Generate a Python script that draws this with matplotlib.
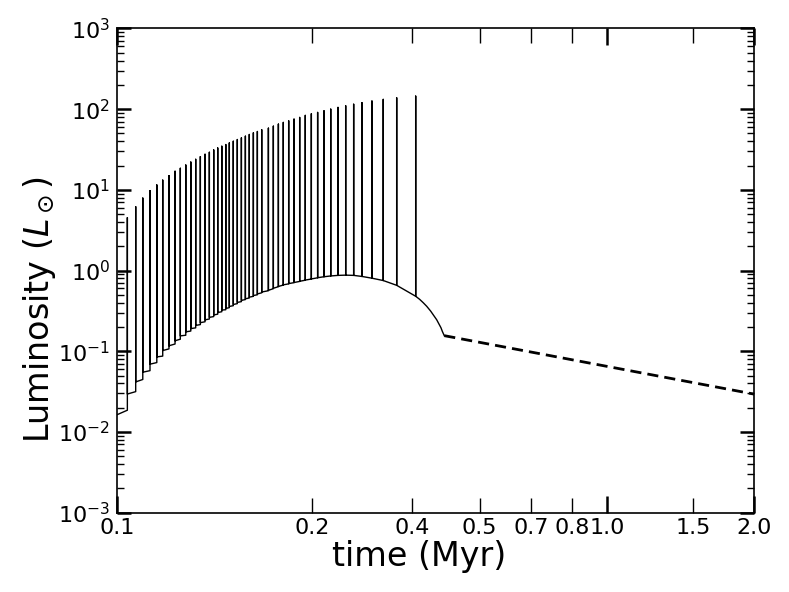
import numpy as np
import matplotlib
matplotlib.use("Agg")
import matplotlib.pyplot as plt
from matplotlib.ticker import FixedLocator, FixedFormatter, LogLocator, NullFormatter

# burst times (Myr) and peak luminosity (Lsun)
t_burst = [0.1051, 0.1093, 0.1130, 0.1169, 0.1207, 0.1241, 0.1278, 0.1315, 0.1348, 0.1383,
           0.1416, 0.1449, 0.1481, 0.1514, 0.1545, 0.1577, 0.1607, 0.1638, 0.1669, 0.1697,
           0.1729, 0.1762, 0.1796, 0.1830, 0.1864, 0.1900, 0.1936, 0.1976, 0.2039,
           0.2087, 0.2137, 0.2187, 0.2243, 0.2300, 0.2362, 0.2425, 0.2495, 0.2570, 0.2648,
           0.2733, 0.2828, 0.2932, 0.3044, 0.3165, 0.3317, 0.3498, 0.3726, 0.4074]
L_peak = [4.52, 6.18, 7.91, 9.77, 11.5, 13.2, 15.0, 17.0, 18.5, 20.3,
          22.1, 23.9, 25.8, 27.6, 29.2, 31.2, 33.0, 34.7, 36.4, 38.1,
          40.0, 42.0, 44.0, 46.2, 48.5, 50.8, 52.8, 55.5, 58.1,
          61.5, 65.2, 68.4, 71.6, 75.2, 78.9, 83.6, 87.5, 91.0, 95.3,
          100, 105, 110, 115, 120, 126, 132, 138, 145]
# quiescent luminosity just before and just after each burst
L_pre = [0.0186, 0.0316, 0.0447, 0.0575, 0.0724, 0.0871, 0.107, 0.123, 0.141, 0.158,
         0.178, 0.195, 0.214, 0.232, 0.251, 0.269, 0.288, 0.309, 0.327, 0.347,
         0.367, 0.389, 0.412, 0.437, 0.457, 0.479, 0.501, 0.530, 0.562,
         0.596, 0.631, 0.661, 0.684, 0.708, 0.733, 0.759, 0.785, 0.813, 0.838,
         0.857, 0.871, 0.877, 0.871, 0.845, 0.804, 0.752, 0.656, 0.480]
L_post = [0.0295, 0.0417, 0.0550, 0.0692, 0.0851, 0.102, 0.117, 0.135, 0.155, 0.174,
          0.191, 0.209, 0.226, 0.245, 0.263, 0.282, 0.302, 0.324, 0.339, 0.359,
          0.380, 0.403, 0.427, 0.447, 0.468, 0.490, 0.513, 0.542, 0.569,
          0.603, 0.635, 0.665, 0.689, 0.711, 0.736, 0.762, 0.787, 0.815, 0.838,
          0.857, 0.871, 0.877, 0.871, 0.845, 0.804, 0.752, 0.656, 0.480]

t_start, L_start = 0.1, 0.0163
# fall-off after the last burst
t_decay = [0.415, 0.422, 0.429, 0.437, 0.444, 0.4496, 0.455, 0.4587, 0.462, 0.466]
L_decay = [0.44, 0.40, 0.361, 0.315, 0.275, 0.246, 0.215, 0.196, 0.175, 0.156]
t_dash = [0.466, 2.0]
L_dash = [0.156, 0.0294]

xtick_major = [0.1, 1.0, 2.0]
xlab_major = ['0.1', '1.0', '2.0']
xtick_minor = [0.25, 0.4, 0.55, 0.7, 0.85, 1.5]
xlab_minor = ['0.2', '0.4', '0.5', '0.7', '0.8', '1.5']

# build the light curve: quiescent -> spike -> quiescent
xs = [t_start]
ys = [L_start]
for t, pk, a, b in zip(t_burst, L_peak, L_pre, L_post):
    xs += [t, t, t]
    ys += [a, pk, b]
xs += t_decay
ys += L_decay

fig = plt.figure(figsize=(7.89, 5.92), dpi=100)
ax = fig.add_axes([0.148, 0.134, 0.808, 0.818])

ax.plot(xs, ys, color='black', lw=1.0)
ax.plot(t_dash, L_dash, color='black', lw=2.0, dashes=(4, 2.2))

ax.set_xscale('log')
ax.set_yscale('log')
ax.set_xlim(0.1, 2.0)
ax.set_ylim(1e-3, 1e3)

ax.xaxis.set_major_locator(FixedLocator(xtick_major))
ax.xaxis.set_major_formatter(FixedFormatter(xlab_major))
ax.xaxis.set_minor_locator(FixedLocator(xtick_minor))
ax.xaxis.set_minor_formatter(FixedFormatter(xlab_minor))
ax.yaxis.set_major_locator(LogLocator(base=10, numticks=20))
ax.yaxis.set_minor_locator(LogLocator(base=10, subs=np.arange(2, 10), numticks=100))
ax.yaxis.set_minor_formatter(NullFormatter())

ax.tick_params(which='both', direction='in', top=True, right=True, labelsize=16)
ax.tick_params(axis='x', which='major', length=12, width=1.8, pad=4)
ax.tick_params(axis='x', which='minor', length=11, width=1.0, pad=4)
ax.tick_params(axis='y', which='major', length=10, width=1.8, pad=5)
ax.tick_params(axis='y', which='minor', length=5, width=1.0)
for s in ax.spines.values():
    s.set_linewidth(1.2)

ax.set_xlabel('time (Myr)', fontsize=24, labelpad=1)
ax.set_ylabel(r'Luminosity ($L_\odot$)', fontsize=24, labelpad=0)
# labels sit a little off-centre in the original
ax.xaxis.label.set_x(0.475)
ax.yaxis.label.set_y(0.42)

fig.savefig('out.png', dpi=100)
